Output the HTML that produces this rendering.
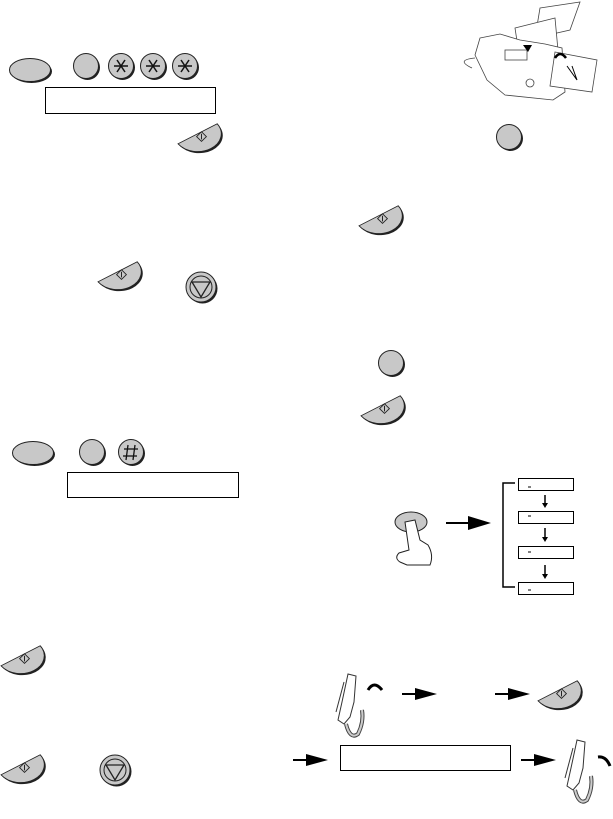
<!DOCTYPE html>
<html><head><style>html,body{margin:0;padding:0;background:#fff}svg{display:block}</style></head><body>
<svg width="613" height="819" viewBox="0 0 613 819" xmlns="http://www.w3.org/2000/svg">
<defs>
<g id="st0">
<path d="M1,26 L41,1 A24,22 0 0,1 1,26 Z" fill="#222" transform="translate(1.5,2)"/>
<path d="M1,26 L41,1 A24,22 0 0,1 1,26 Z" fill="#c8c8c8" stroke="#222" stroke-width="1"/>
<path d="M25,11 L30,17 L25,23 L20,17 Z" fill="none" stroke="#222" stroke-width="1"/>
<line x1="25" y1="13.5" x2="25" y2="20.5" stroke="#222" stroke-width="1"/>
</g>
<g id="st"><use href="#st0" transform="scale(0.98,0.8)"/></g>
<g id="ci"><circle cx="1.5" cy="1.5" r="12.5" fill="#222"/><circle cx="0" cy="0" r="12.5" fill="#c8c8c8" stroke="#222"/></g>
<g id="ov"><ellipse cx="1.5" cy="1.5" rx="20.5" ry="11.5" fill="#222"/><ellipse cx="0" cy="0" rx="20.5" ry="11.5" fill="#c8c8c8" stroke="#222"/></g>
<g id="as"><use href="#ci"/><g stroke="#111" stroke-width="1.5"><line x1="-7" y1="0" x2="7" y2="0"/><line x1="-4" y1="-6" x2="4" y2="6"/><line x1="4" y1="-6" x2="-4" y2="6"/></g></g>
<g id="sp"><circle cx="1.5" cy="1.5" r="15" fill="#222"/><circle r="15" fill="#c8c8c8" stroke="#222"/><circle r="11" fill="none" stroke="#222"/><path d="M-9,-5 L9,-5 L0,10 Z" fill="none" stroke="#222" stroke-width="1.3"/></g>
<g id="ar"><line x1="0" y1="0" x2="16" y2="0" stroke="#000" stroke-width="2"/><path d="M13,-6 L35,0 L13,6 Z" fill="#000"/></g>
<g id="hs" fill="none" stroke="#333" stroke-width="1">
<path d="M12,2 L20,4 L18,30 L14,45 L8,52 L2,48 L6,30 Z" fill="#fff"/>
<path d="M10,52 Q14,68 22,62 Q28,50 26,38" stroke="#444" stroke-width="4"/>
<path d="M10,52 Q14,68 22,62 Q28,50 26,38" stroke="#ccc" stroke-width="2"/>
<line x1="0" y1="40" x2="8" y2="10"/>
</g>
</defs>

<use href="#ov" x="30" y="70"/>
<use href="#ci" x="86" y="66"/>
<use href="#as" x="121" y="66"/>
<use href="#as" x="153" y="66"/>
<use href="#as" x="185" y="66"/>
<rect x="45.5" y="87.5" width="170" height="26" fill="none" stroke="#000"/>
<use href="#st" x="177" y="123"/>
<use href="#st" x="97" y="261"/>
<use href="#sp" x="201" y="287"/>

<use href="#ov" x="33" y="453"/>
<use href="#ci" x="92" y="452"/>
<use href="#ci" x="131" y="452"/>
<g stroke="#111" stroke-width="1.3"><line x1="128" y1="445" x2="126" y2="460"/><line x1="135" y1="445" x2="133" y2="460"/><line x1="124" y1="449" x2="138" y2="449"/><line x1="123" y1="456" x2="137" y2="456"/></g>
<rect x="67.5" y="472.5" width="171" height="25" fill="none" stroke="#000"/>

<use href="#st" x="0" y="645"/>
<use href="#st" x="0" y="754"/>
<use href="#sp" x="115" y="770"/>

<g fill="#fff" stroke="#444" stroke-width="0.8">
<path d="M540,8 L580,2 L570,30 L535,38 Z"/>
<path d="M515,28 L555,18 L560,72 L523,80 Z"/>
<path d="M480,38 L500,34 L520,40 L545,44 L562,48 L565,92 L553,100 L505,95 L487,80 L475,55 Z"/>
<path d="M555,52 L597,60 L592,92 L550,86 Z"/>
<path d="M475,58 Q455,60 472,68" fill="none"/>
<rect x="505" y="50" width="22" height="10"/>
<circle cx="530" cy="83" r="4"/>
</g>
<path d="M567,66 L577,80 L572,66" stroke="#000" stroke-width="1" fill="none"/>
<path d="M523,45 L528,52 L532,45 Z" fill="#000"/>
<path d="M555,58 Q560,50 566,58" stroke="#000" stroke-width="2.5" fill="none"/>

<use href="#ci" x="509" y="137"/>
<use href="#st" x="358" y="205"/>
<use href="#ci" x="391" y="363"/>
<use href="#st" x="360" y="395"/>

<ellipse cx="411" cy="522" rx="16" ry="10" fill="#c8c8c8" stroke="#222"/>
<path d="M405,522 L409,550 L399,553 Q394,558 400,562 L407,565 L430,565 Q434,555 428,545 L420,540 L415,520 Z" fill="#fff" stroke="#222"/>
<line x1="446" y1="523" x2="472" y2="523" stroke="#000" stroke-width="2"/>
<path d="M468,516 L491,523 L468,530 Z" fill="#000"/>
<path d="M515,483 L503,483 L503,587 L515,587" fill="none" stroke="#000" stroke-width="1.5"/>
<g fill="none" stroke="#000">
<rect x="518.5" y="478.5" width="55" height="12"/>
<rect x="518.5" y="511.5" width="55" height="12"/>
<rect x="518.5" y="546.5" width="55" height="12"/>
<rect x="518.5" y="582.5" width="55" height="12"/>
</g>
<g stroke="#000" stroke-width="1"><line x1="528" y1="487" x2="531" y2="487"/><line x1="528" y1="516" x2="531" y2="516"/><line x1="528" y1="552" x2="531" y2="552"/><line x1="528" y1="590" x2="531" y2="590"/></g>
<g stroke="#000" stroke-width="1.5"><line x1="545" y1="495" x2="545" y2="504"/><line x1="545" y1="528" x2="545" y2="538"/><line x1="545" y1="565" x2="545" y2="575"/></g>
<g fill="#000"><path d="M542,503 L548,503 L545,508 Z"/><path d="M542,537 L548,537 L545,542 Z"/><path d="M542,574 L548,574 L545,579 Z"/></g>

<use href="#hs" x="336" y="672"/>
<path d="M368,690 Q374,680 382,690" stroke="#000" stroke-width="3" fill="none"/>
<use href="#ar" x="402" y="694"/>
<use href="#ar" x="495" y="694"/>
<use href="#st" x="537" y="680"/>
<use href="#ar" x="293" y="760"/>
<rect x="340.5" y="745.5" width="170" height="25" fill="none" stroke="#000"/>
<use href="#ar" x="521" y="760"/>
<use href="#hs" x="565" y="738"/>
<path d="M598,757 Q606,756 610,766" stroke="#000" stroke-width="3" fill="none"/>
</svg>
</body></html>
